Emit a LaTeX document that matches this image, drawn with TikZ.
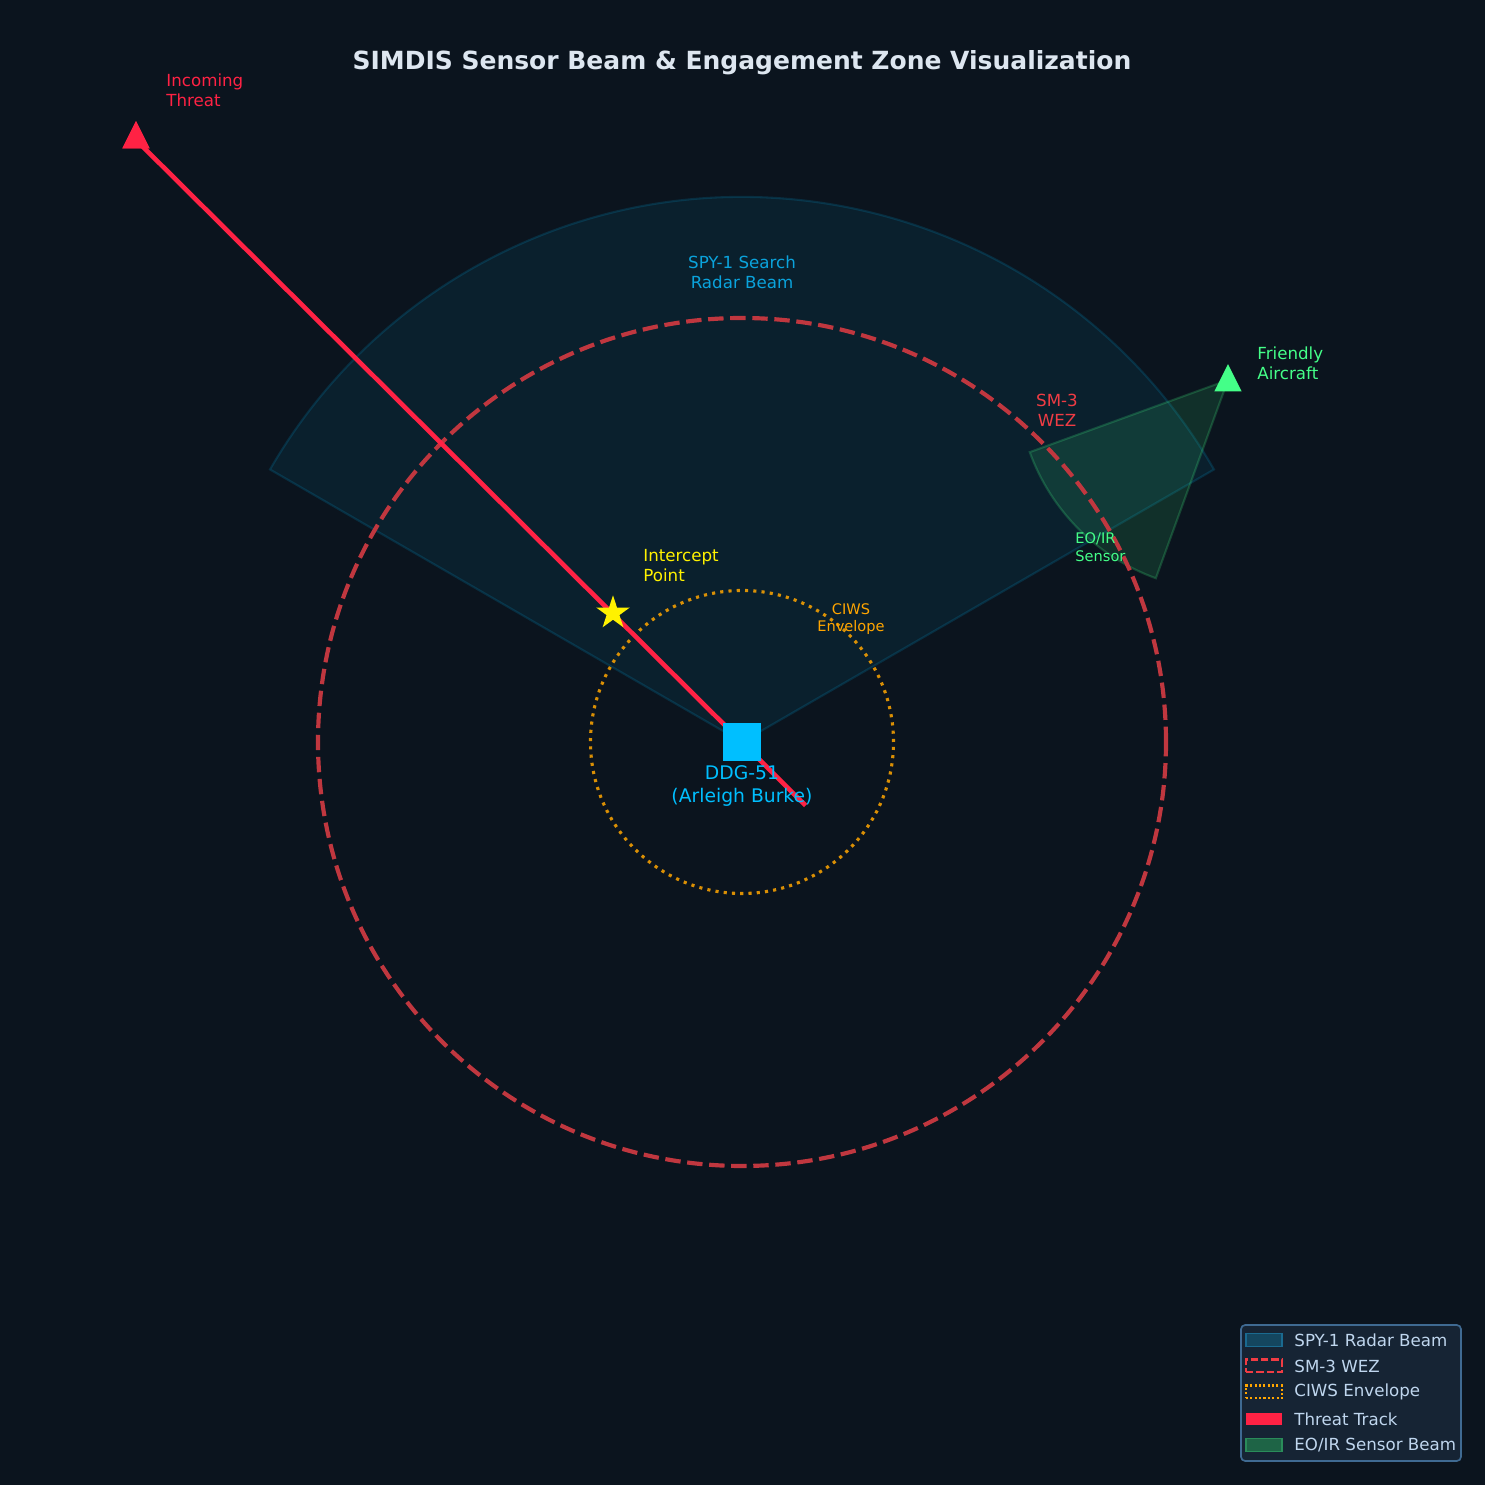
\documentclass[tikz,border=0pt]{standalone}
\usepackage{fontspec}
\setmainfont{DejaVu Sans}
\usetikzlibrary{shapes.geometric}

\definecolor{bgnavy}{HTML}{0B141E}
\definecolor{spyblue}{HTML}{00BFFF}
\definecolor{spytext}{HTML}{0AA3DC}
\definecolor{wezline}{HTML}{C0373F}
\definecolor{wezred}{HTML}{F03C44}
\definecolor{ciwsorange}{HTML}{FFA500}
\definecolor{threatred}{HTML}{FF2244}
\definecolor{friendgreen}{HTML}{44FF88}
\definecolor{titlegrey}{HTML}{DDE6F0}
\definecolor{legbg}{HTML}{162434}
\definecolor{legedge}{HTML}{3F6A92}
\definecolor{legtext}{HTML}{BFD6EE}
\definecolor{legspy}{HTML}{14465F}
\definecolor{legspyedge}{HTML}{1A6A90}
\definecolor{legeo}{HTML}{1E6446}
\definecolor{legeoedge}{HTML}{2A8C5A}

\begin{document}
\begin{tikzpicture}[
  x=0.48pt, y=0.48pt,
  font=\fontsize{8}{9.6}\selectfont,
  lbl/.style={inner sep=0pt, align=center},
  lblleft/.style={inner sep=0pt, align=left, anchor=west},
  radar/.style={fill=spyblue, fill opacity=0.07, draw=spyblue, draw opacity=0.15, line width=1pt},
  eoir/.style={fill=friendgreen, fill opacity=0.12, draw=friendgreen, draw opacity=0.2, line width=1pt},
  wez/.style={draw=wezline, line width=2pt, dash pattern=on 7.4pt off 3.2pt},
  ciws/.style={draw=ciwsorange, draw opacity=0.85, line width=1.5pt, dash pattern=on 1.5pt off 2.475pt},
  track/.style={draw=threatred, line width=2.2pt, line cap=rect},
  ship/.style={rectangle, fill=spyblue, minimum size=18.2pt, inner sep=0pt},
  tri/.style={isosceles triangle, isosceles triangle stretches, shape border rotate=90,
    minimum width=13pt, minimum height=13pt, inner sep=0pt, yshift=-1.4pt},
  intercept/.style={star, star points=5, star point ratio=2.618, fill=yellow,
    minimum size=17pt, inner sep=0pt},
  legpatch/.style={rectangle, minimum width=17.3pt, minimum height=6.2pt, inner sep=0pt, line width=0.8pt},
  legtxt/.style={inner sep=0pt, anchor=west, text=legtext}
]
  \useasboundingbox (0,0) rectangle (1485,1485);
  \fill[bgnavy] (0,0) rectangle (1485,1485);

  \coordinate (own) at (742,743);
  \coordinate (acft) at (1228,1105);
  \coordinate (trackend) at (804,681);

  \path[radar] (own) -- ++(30:545) arc[start angle=30, end angle=150, radius=545] -- cycle;
  \path[eoir] (acft) -- ++(200:211) arc[start angle=200, end angle=250, radius=211] -- cycle;

  \draw[wez] (own) circle[radius=424];
  \draw[ciws] (own) circle[radius=151.5];

  \node[tri, fill=threatred] (threat) at (136,1348) {};
  \draw[track] (threat.center) -- (trackend);
  \node[tri, fill=threatred] at (136,1348) {};
  \node[ship] (ddg) at (own) {};
  \node[intercept] (ip) at (613,872) {};
  \node[tri, fill=friendgreen] (friendly) at (acft) {};

  \node[lbl, font=\bfseries\fontsize{12}{14.4}\selectfont, text=titlegrey] (title) at (742,1422)
    {SIMDIS Sensor Beam \& Engagement Zone Visualization};
  \node[lblleft, text=threatred] (threatlbl) at (166,1395) {Incoming\\Threat};
  \node[lblleft, text=yellow] (iplbl) at (643,919) {Intercept\\Point};
  \node[lblleft, text=friendgreen] (friendlbl) at (1257,1122) {Friendly\\Aircraft};
  \node[lbl, text=wezred] (wezlbl) at (1057,1075) {SM-3\\WEZ};
  \node[lblleft, text=friendgreen, font=\fontsize{7}{8.4}\selectfont] (eolbl) at (1075,938) {EO/IR\\Sensor};
  \node[lbl, text=ciwsorange, font=\fontsize{7}{8.4}\selectfont] (ciwslbl) at (851,866) {CIWS\\Envelope};
  \node[lbl, text=spytext] (spylbl) at (742,1213) {SPY-1 Search\\Radar Beam};
  \node[lbl, text=spyblue, font=\fontsize{9}{10.8}\selectfont] (ddglbl) at (742,699) {DDG-51\\(Arleigh Burke)};

  \draw[fill=legbg, draw=legedge, line width=0.8pt, rounded corners=2pt] (1241,24) rectangle (1461,160);
  \node[legpatch, fill=legspy, draw=legspyedge] (lp1) at (1264,145) {};
  \node[legpatch, draw=wezred, line width=1pt, dash pattern=on 3.6pt off 1.4pt] (lp2) at (1264,119) {};
  \node[legpatch, draw=ciwsorange, line width=1pt, dash pattern=on 1pt off 1.1pt] (lp3) at (1264,93) {};
  \node[legpatch, fill=threatred] (lp4) at (1264,66) {};
  \node[legpatch, fill=legeo, draw=legeoedge] (lp5) at (1264,40) {};
  \node[legtxt] (lt1) at (1294,145) {SPY-1 Radar Beam};
  \node[legtxt] (lt2) at (1294,119) {SM-3 WEZ};
  \node[legtxt] (lt3) at (1294,93) {CIWS Envelope};
  \node[legtxt] (lt4) at (1294,66) {Threat Track};
  \node[legtxt] (lt5) at (1294,40) {EO/IR Sensor Beam};
\end{tikzpicture}
\end{document}
